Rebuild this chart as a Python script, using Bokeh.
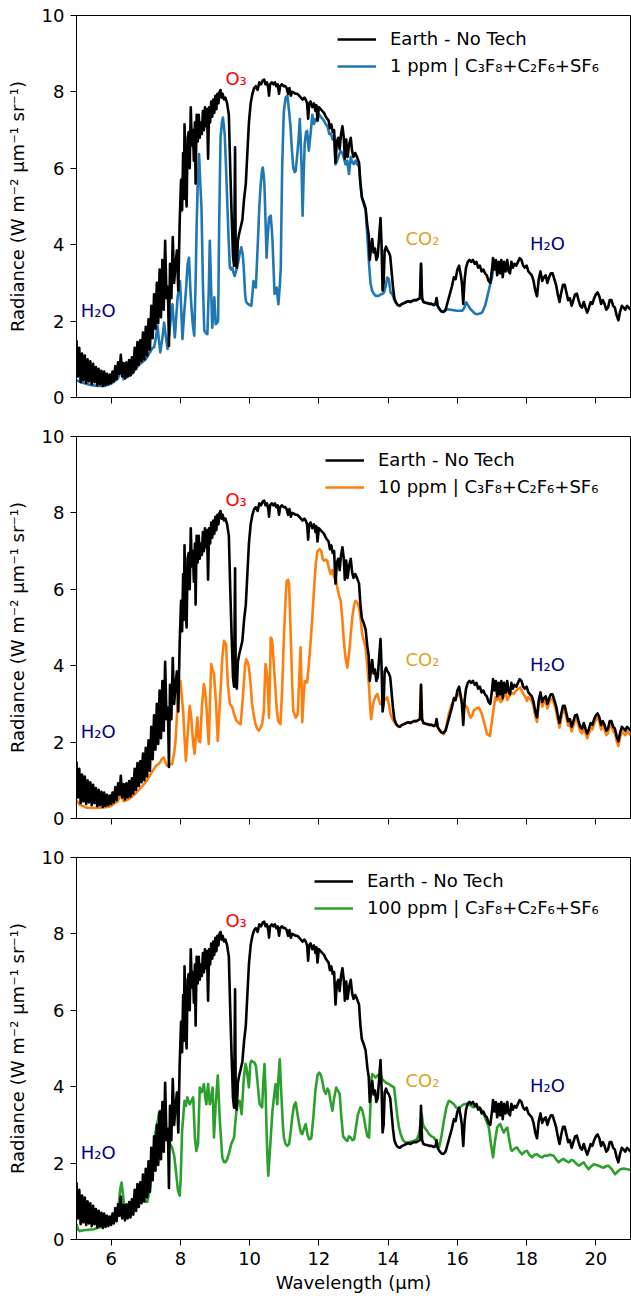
from bokeh.plotting import figure
from bokeh.layouts import column
from bokeh.models import Range1d, FixedTicker, Legend, LegendItem, Label
from bokeh.embed import file_html
from bokeh.resources import INLINE

FONT = "DejaVu Sans"
FS = "18px"

# ---------------- data (wavelength in micron, radiance) ----------------
earth_points = [
    (5.00, 1.50), (5.04, 0.55), (5.08, 1.30), (5.12, 0.40), (5.16, 1.15), (5.20, 0.45), (5.24, 1.10), (5.28, 0.38),
    (5.32, 1.00), (5.36, 0.42), (5.40, 0.95), (5.44, 0.35), (5.48, 0.88), (5.52, 0.40), (5.56, 0.80), (5.60, 0.32),
    (5.64, 0.75), (5.68, 0.35), (5.72, 0.70), (5.76, 0.30), (5.80, 0.68), (5.84, 0.33), (5.88, 0.62), (5.92, 0.35),
    (5.96, 0.60), (6.00, 0.38), (6.04, 0.68), (6.08, 0.42), (6.12, 0.82), (6.16, 0.48), (6.20, 0.92), (6.24, 0.62),
    (6.28, 1.12), (6.32, 0.55), (6.36, 0.90), (6.40, 0.50), (6.44, 0.92), (6.48, 0.55), (6.52, 0.98), (6.56, 0.58),
    (6.60, 1.05), (6.64, 0.65), (6.68, 1.30), (6.72, 0.75), (6.76, 1.45), (6.80, 0.85), (6.84, 1.50), (6.88, 0.95),
    (6.92, 1.70), (6.96, 1.00), (7.00, 1.85), (7.04, 1.10), (7.08, 2.05), (7.12, 1.25), (7.16, 2.40), (7.20, 1.55),
    (7.24, 2.70), (7.28, 1.80), (7.32, 3.00), (7.36, 1.95), (7.40, 3.35), (7.44, 2.10), (7.48, 3.60), (7.52, 2.30),
    (7.56, 4.10), (7.60, 2.60), (7.64, 2.90), (7.67, 1.35), (7.70, 3.50), (7.74, 2.60), (7.78, 4.20), (7.82, 3.00),
    (7.86, 3.50), (7.90, 3.85), (7.94, 2.80), (7.98, 4.60), (8.02, 5.70), (8.05, 4.90), (8.08, 6.40), (8.10, 5.20),
    (8.12, 7.15), (8.15, 5.60), (8.18, 5.00), (8.21, 6.80), (8.24, 6.95), (8.27, 6.00), (8.30, 7.60), (8.33, 6.60),
    (8.36, 7.00), (8.39, 6.20), (8.42, 7.20), (8.44, 5.60), (8.47, 7.40), (8.50, 6.70), (8.53, 7.40), (8.56, 6.80),
    (8.59, 7.20), (8.62, 6.90), (8.65, 7.50), (8.68, 7.00), (8.71, 7.60), (8.74, 7.10), (8.77, 7.55), (8.80, 6.25),
    (8.83, 7.60), (8.86, 7.20), (8.89, 7.75), (8.92, 7.35), (8.95, 7.80), (8.98, 7.45), (9.01, 7.90), (9.04, 7.55),
    (9.07, 7.95), (9.10, 7.70), (9.13, 8.00), (9.16, 8.05), (9.19, 7.85), (9.22, 7.95), (9.26, 7.80), (9.30, 7.85),
    (9.35, 7.70), (9.40, 7.40), (9.44, 6.00), (9.48, 4.80), (9.52, 3.70), (9.55, 3.45), (9.58, 6.55), (9.60, 3.50),
    (9.63, 3.40), (9.66, 4.10), (9.70, 4.30), (9.74, 4.45), (9.79, 4.65), (9.84, 5.20), (9.89, 5.60), (9.94, 6.50),
    (9.98, 7.20), (10.03, 7.70), (10.08, 7.95), (10.13, 8.10), (10.18, 8.15), (10.23, 8.05), (10.28, 8.25),
    (10.33, 8.20), (10.38, 8.30), (10.42, 8.32), (10.46, 8.20), (10.50, 8.25), (10.54, 8.10), (10.56, 7.90),
    (10.59, 8.20), (10.64, 8.25), (10.69, 8.20), (10.73, 8.25), (10.77, 8.15), (10.81, 8.20), (10.85, 7.95),
    (10.88, 8.15), (10.93, 8.20), (10.98, 8.15), (11.03, 8.15), (11.07, 8.10), (11.11, 7.95), (11.15, 8.10),
    (11.19, 7.90), (11.23, 8.00), (11.28, 7.98), (11.33, 7.95), (11.38, 7.95), (11.43, 7.90), (11.48, 7.85),
    (11.53, 7.80), (11.58, 7.85), (11.62, 7.80), (11.66, 7.70), (11.69, 7.30), (11.72, 7.70), (11.76, 7.75),
    (11.81, 7.60), (11.86, 7.70), (11.90, 7.50), (11.93, 7.65), (11.96, 7.25), (12.00, 7.60), (12.05, 7.55),
    (12.10, 7.50), (12.15, 7.45), (12.20, 7.35), (12.24, 7.30), (12.28, 7.25), (12.32, 7.05), (12.36, 7.15),
    (12.40, 6.95), (12.44, 7.00), (12.48, 6.15), (12.52, 6.70), (12.56, 6.80), (12.60, 6.50), (12.64, 6.90),
    (12.68, 7.10), (12.72, 6.80), (12.75, 6.25), (12.79, 6.75), (12.83, 6.30), (12.87, 6.60), (12.92, 6.80),
    (12.96, 6.45), (13.00, 6.30), (13.05, 6.40), (13.10, 6.30), (13.16, 6.15), (13.20, 5.60), (13.24, 5.25),
    (13.30, 5.10), (13.35, 4.95), (13.40, 4.50), (13.44, 4.25), (13.47, 3.60), (13.50, 3.85), (13.54, 4.15),
    (13.58, 3.80), (13.62, 3.90), (13.66, 3.60), (13.70, 3.70), (13.74, 4.20), (13.78, 4.70), (13.81, 4.00),
    (13.84, 2.80), (13.87, 3.00), (13.90, 3.85), (13.94, 3.95), (13.98, 3.85), (14.02, 3.80), (14.06, 3.70),
    (14.10, 3.30), (14.14, 2.90), (14.18, 2.60), (14.23, 2.48), (14.28, 2.42), (14.34, 2.40), (14.40, 2.45),
    (14.46, 2.47), (14.52, 2.50), (14.58, 2.52), (14.64, 2.50), (14.70, 2.53), (14.76, 2.55), (14.82, 2.55),
    (14.88, 2.58), (14.92, 2.60), (14.95, 3.50), (14.98, 2.60), (15.02, 2.50), (15.08, 2.48), (15.14, 2.47),
    (15.20, 2.45), (15.26, 2.45), (15.32, 2.42), (15.37, 2.45), (15.40, 2.60), (15.43, 2.40), (15.48, 2.32),
    (15.54, 2.25), (15.60, 2.24), (15.66, 2.30), (15.72, 2.50), (15.78, 2.70), (15.84, 2.90), (15.90, 3.15),
    (15.95, 3.10), (16.00, 3.35), (16.05, 3.45), (16.10, 3.20), (16.13, 3.00), (16.17, 2.45), (16.21, 3.10),
    (16.25, 3.40), (16.30, 3.55), (16.35, 3.60), (16.40, 3.55), (16.45, 3.60), (16.50, 3.50), (16.55, 3.55),
    (16.60, 3.40), (16.65, 3.45), (16.70, 3.30), (16.75, 3.35), (16.80, 3.25), (16.85, 3.20), (16.90, 3.05),
    (16.95, 3.00), (17.00, 3.35), (17.03, 3.65), (17.07, 3.35), (17.11, 3.60), (17.15, 3.20), (17.19, 3.55),
    (17.23, 3.25), (17.27, 3.60), (17.31, 3.15), (17.35, 3.55), (17.39, 3.30), (17.44, 3.60), (17.48, 3.30),
    (17.52, 3.25), (17.56, 3.55), (17.60, 3.40), (17.65, 3.50), (17.70, 3.45), (17.75, 3.55), (17.80, 3.65),
    (17.85, 3.60), (17.90, 3.45), (17.95, 3.40), (18.00, 3.45), (18.05, 3.30), (18.10, 3.25), (18.15, 3.20),
    (18.20, 3.05), (18.25, 2.80), (18.30, 2.65), (18.35, 3.10), (18.40, 3.30), (18.45, 3.05), (18.50, 3.15),
    (18.55, 3.20), (18.60, 3.00), (18.65, 3.15), (18.70, 3.25), (18.75, 3.25), (18.80, 3.10), (18.85, 2.95),
    (18.90, 2.70), (18.95, 2.50), (19.00, 2.75), (19.05, 2.95), (19.10, 2.95), (19.15, 2.75), (19.20, 2.55),
    (19.25, 2.60), (19.30, 2.40), (19.35, 2.55), (19.40, 2.70), (19.45, 2.72), (19.50, 2.55), (19.55, 2.40),
    (19.60, 2.35), (19.65, 2.50), (19.70, 2.35), (19.75, 2.22), (19.80, 2.35), (19.85, 2.50), (19.90, 2.45),
    (19.95, 2.60), (20.00, 2.70), (20.05, 2.75), (20.10, 2.65), (20.15, 2.45), (20.20, 2.55), (20.25, 2.45),
    (20.30, 2.30), (20.35, 2.35), (20.40, 2.55), (20.45, 2.55), (20.50, 2.40), (20.55, 2.35), (20.60, 2.15),
    (20.65, 2.02), (20.70, 2.25), (20.75, 2.40), (20.80, 2.35), (20.85, 2.30), (20.90, 2.40), (20.95, 2.35),
    (21.00, 2.30),
]

tech_1ppm_points = [
    (5.00, 0.45), (5.20, 0.38), (5.40, 0.33), (5.60, 0.30), (5.80, 0.30), (6.00, 0.36), (6.20, 0.50), (6.28, 0.75),
    (6.36, 0.48), (6.60, 0.62), (6.80, 0.85), (7.00, 1.00), (7.10, 1.15), (7.20, 1.30), (7.24, 1.31), (7.29, 1.55),
    (7.34, 1.88), (7.38, 1.50), (7.42, 1.18), (7.48, 1.55), (7.53, 1.96), (7.58, 1.60), (7.63, 1.27), (7.70, 1.85),
    (7.77, 2.44), (7.84, 1.57), (7.92, 2.62), (7.99, 3.05), (8.03, 2.20), (8.06, 1.53), (8.11, 2.20), (8.16, 2.79),
    (8.21, 3.50), (8.25, 3.66), (8.29, 2.80), (8.32, 2.36), (8.36, 1.90), (8.40, 1.62), (8.44, 3.00), (8.47, 4.50),
    (8.50, 5.58), (8.54, 6.37), (8.58, 5.50), (8.61, 4.97), (8.65, 3.00), (8.69, 1.75), (8.74, 1.68), (8.78, 1.66),
    (8.82, 2.80), (8.85, 4.10), (8.89, 2.80), (8.92, 1.83), (8.95, 2.20), (8.98, 2.62), (9.02, 1.92), (9.06, 1.95),
    (9.09, 2.01), (9.12, 4.50), (9.16, 6.81), (9.20, 7.20), (9.23, 7.33), (9.28, 6.89), (9.32, 6.00), (9.36, 4.97),
    (9.40, 4.00), (9.43, 3.40), (9.47, 3.35), (9.50, 3.40), (9.54, 3.25), (9.57, 3.18), (9.62, 3.35), (9.66, 3.49),
    (9.71, 3.75), (9.76, 3.93), (9.80, 3.75), (9.83, 3.40), (9.87, 2.70), (9.90, 2.50), (9.95, 2.45), (10.00, 2.42),
    (10.05, 2.40), (10.09, 2.80), (10.11, 3.05), (10.15, 2.90), (10.18, 2.88), (10.21, 3.50), (10.24, 4.10),
    (10.28, 5.00), (10.32, 5.58), (10.36, 5.95), (10.38, 6.02), (10.41, 5.80), (10.43, 5.50), (10.46, 4.60),
    (10.49, 3.66), (10.52, 4.20), (10.56, 4.71), (10.61, 4.76), (10.64, 4.40), (10.66, 4.10), (10.69, 3.40),
    (10.72, 2.71), (10.78, 2.88), (10.83, 2.44), (10.87, 2.90), (10.90, 3.40), (10.92, 4.80), (10.94, 6.02),
    (10.97, 7.00), (10.99, 7.51), (11.04, 7.85), (11.09, 7.90), (11.14, 7.50), (11.18, 7.10), (11.22, 6.50),
    (11.26, 6.02), (11.30, 5.90), (11.33, 5.93), (11.37, 6.30), (11.41, 6.72), (11.45, 7.29), (11.48, 6.60),
    (11.50, 6.02), (11.53, 4.76), (11.56, 5.80), (11.59, 6.63), (11.63, 6.95), (11.66, 6.98), (11.71, 6.46),
    (11.76, 6.90), (11.81, 7.40), (11.86, 7.16), (11.90, 7.29), (11.96, 7.24), (12.00, 7.42), (12.05, 7.35),
    (12.10, 7.30), (12.15, 7.24), (12.20, 7.15), (12.25, 7.10), (12.30, 6.90), (12.35, 6.90), (12.40, 6.75),
    (12.44, 6.85), (12.48, 6.10), (12.53, 6.20), (12.58, 6.35), (12.63, 6.45), (12.68, 6.40), (12.72, 6.28),
    (12.77, 6.10), (12.82, 6.20), (12.87, 5.85), (12.92, 6.30), (12.97, 6.15), (13.01, 6.11), (13.06, 6.20),
    (13.11, 6.10), (13.16, 6.05), (13.20, 5.60), (13.25, 5.20), (13.30, 5.05), (13.35, 4.90), (13.40, 4.20),
    (13.45, 3.49), (13.49, 3.00), (13.54, 2.79), (13.59, 2.71), (13.64, 2.66), (13.73, 2.66), (13.78, 2.70),
    (13.83, 2.71), (13.88, 2.75), (13.93, 2.90), (13.97, 3.14), (14.02, 3.10), (14.07, 2.75), (14.12, 2.71),
    (14.18, 2.55), (14.23, 2.48), (14.28, 2.42), (14.34, 2.40), (14.40, 2.45), (14.46, 2.47), (14.52, 2.50),
    (14.58, 2.52), (14.64, 2.50), (14.70, 2.53), (14.76, 2.55), (14.82, 2.55), (14.88, 2.58), (14.92, 2.60),
    (14.95, 3.50), (14.98, 2.60), (15.02, 2.50), (15.08, 2.48), (15.14, 2.47), (15.20, 2.45), (15.26, 2.45),
    (15.32, 2.42), (15.37, 2.45), (15.40, 2.60), (15.43, 2.40), (15.48, 2.32), (15.54, 2.25), (15.60, 2.24),
    (15.71, 2.31), (15.85, 2.29), (15.99, 2.27), (16.14, 2.27), (16.20, 2.35), (16.26, 2.49), (16.32, 2.40),
    (16.38, 2.31), (16.50, 2.20), (16.57, 2.18), (16.65, 2.20), (16.72, 2.23), (16.80, 2.40), (16.86, 2.62),
    (16.93, 2.90), (17.00, 3.14), (17.04, 3.40),
]

tech_10ppm_points = [
    (5.00, 0.48), (5.10, 0.35), (5.20, 0.32), (5.30, 0.28), (5.50, 0.28), (5.70, 0.28), (5.90, 0.30), (6.00, 0.33),
    (6.10, 0.40), (6.20, 0.45), (6.28, 0.65), (6.36, 0.45), (6.50, 0.50), (6.70, 0.65), (6.90, 0.85), (7.00, 0.95),
    (7.10, 1.10), (7.20, 1.25), (7.30, 1.38), (7.40, 1.45), (7.46, 1.55), (7.52, 1.60), (7.58, 1.45), (7.62, 1.38),
    (7.70, 1.42), (7.76, 1.42), (7.82, 1.70), (7.86, 2.03), (7.92, 3.00), (7.97, 3.50), (8.00, 3.60), (8.04, 3.20),
    (8.08, 2.82), (8.12, 2.10), (8.16, 1.51), (8.21, 2.20), (8.27, 2.95), (8.31, 2.70), (8.34, 2.30), (8.38, 1.90),
    (8.41, 1.69), (8.45, 2.20), (8.49, 2.64), (8.53, 2.03), (8.57, 2.00), (8.62, 2.90), (8.68, 3.52), (8.72, 3.30),
    (8.76, 2.82), (8.80, 2.20), (8.82, 1.95), (8.86, 3.20), (8.89, 4.04), (8.93, 3.90), (8.97, 3.78), (9.00, 3.40),
    (9.03, 3.00), (9.08, 2.03), (9.12, 2.70), (9.16, 3.34), (9.21, 4.20), (9.26, 4.65), (9.32, 4.56), (9.37, 3.52),
    (9.43, 3.00), (9.50, 2.91), (9.55, 2.73), (9.62, 2.56), (9.68, 2.50), (9.74, 2.47), (9.79, 3.00), (9.83, 3.52),
    (9.87, 4.00), (9.90, 4.17), (9.94, 4.10), (9.98, 3.95), (10.03, 3.50), (10.07, 3.00), (10.12, 2.70),
    (10.17, 2.47), (10.22, 2.35), (10.27, 2.30), (10.32, 2.38), (10.36, 2.47), (10.41, 2.82), (10.44, 3.60),
    (10.46, 4.04), (10.49, 3.85), (10.51, 3.69), (10.54, 3.10), (10.56, 2.64), (10.59, 3.80), (10.61, 4.74),
    (10.64, 4.70), (10.66, 4.56), (10.70, 4.00), (10.75, 3.34), (10.78, 2.90), (10.82, 2.56), (10.89, 2.47),
    (10.94, 3.40), (10.99, 4.74), (11.03, 5.60), (11.07, 6.22), (11.11, 6.25), (11.14, 6.13), (11.17, 5.30),
    (11.20, 4.39), (11.23, 3.50), (11.26, 2.82), (11.33, 2.64), (11.39, 2.73), (11.43, 3.60), (11.47, 4.48),
    (11.50, 3.50), (11.52, 2.52), (11.56, 3.20), (11.59, 3.60), (11.63, 3.58), (11.66, 3.56), (11.71, 4.04),
    (11.76, 4.60), (11.81, 5.26), (11.86, 6.00), (11.91, 6.66), (11.96, 7.00), (12.02, 7.05), (12.07, 7.00),
    (12.11, 6.80), (12.15, 6.75), (12.20, 6.78), (12.24, 6.75), (12.29, 6.55), (12.34, 6.40), (12.39, 6.50),
    (12.44, 6.31), (12.49, 6.30), (12.53, 6.05), (12.58, 5.85), (12.63, 5.70), (12.68, 5.20), (12.72, 4.65),
    (12.77, 4.20), (12.82, 3.95), (12.87, 4.30), (12.92, 4.83), (12.97, 5.30), (13.02, 5.60), (13.06, 5.70),
    (13.11, 5.65), (13.16, 5.52), (13.21, 5.20), (13.25, 4.83), (13.30, 4.65), (13.35, 4.48), (13.40, 4.00),
    (13.45, 3.43), (13.48, 2.90), (13.51, 2.60), (13.55, 2.90), (13.59, 3.08), (13.64, 3.20), (13.69, 3.26),
    (13.74, 3.10), (13.78, 2.99), (13.83, 3.05), (13.88, 3.08), (13.93, 3.12), (13.97, 3.17), (14.02, 3.00),
    (14.07, 2.73), (14.14, 2.58), (14.22, 2.47), (14.28, 2.42), (14.34, 2.40), (14.40, 2.45), (14.46, 2.47),
    (14.52, 2.50), (14.58, 2.52), (14.64, 2.50), (14.70, 2.53), (14.76, 2.55), (14.82, 2.55), (14.88, 2.58),
    (14.92, 2.60), (14.95, 3.50), (14.98, 2.60), (15.02, 2.50), (15.08, 2.48), (15.14, 2.47), (15.20, 2.45),
    (15.26, 2.45), (15.32, 2.42), (15.37, 2.45), (15.40, 2.60), (15.43, 2.40), (15.48, 2.32), (15.54, 2.25),
    (15.61, 2.21), (15.68, 2.40), (15.75, 2.73), (15.82, 2.95), (15.90, 3.12), (15.97, 3.20), (16.04, 3.26),
    (16.10, 3.15), (16.19, 2.99), (16.28, 2.91), (16.33, 2.75), (16.38, 2.64), (16.43, 2.70), (16.47, 2.82),
    (16.55, 2.88), (16.62, 2.91), (16.70, 2.75), (16.76, 2.56), (16.82, 2.35), (16.86, 2.21), (16.94, 2.16),
    (17.00, 2.56), (17.05, 2.90), (17.10, 3.17), (17.15, 3.10), (17.20, 3.26), (17.25, 3.05), (17.29, 3.08),
    (17.34, 3.20), (17.39, 3.34), (17.44, 3.10), (17.50, 3.20), (17.56, 3.30), (17.63, 3.26), (17.70, 3.35),
    (17.76, 3.40), (17.82, 3.43), (17.88, 3.30), (17.95, 3.20), (18.01, 3.08), (18.05, 3.18), (18.10, 3.13),
    (18.15, 3.08), (18.20, 2.93), (18.25, 2.68), (18.30, 2.53), (18.35, 2.98), (18.40, 3.18), (18.45, 2.93),
    (18.50, 3.03), (18.55, 3.08), (18.60, 2.88), (18.65, 3.03), (18.70, 3.13), (18.75, 3.13), (18.80, 2.98),
    (18.85, 2.83), (18.90, 2.58), (18.95, 2.38), (19.00, 2.63), (19.05, 2.83), (19.10, 2.83), (19.15, 2.63),
    (19.20, 2.43), (19.25, 2.48), (19.30, 2.28), (19.35, 2.43), (19.40, 2.58), (19.45, 2.60), (19.50, 2.43),
    (19.55, 2.28), (19.60, 2.23), (19.65, 2.38), (19.70, 2.23), (19.75, 2.10), (19.80, 2.23), (19.85, 2.38),
    (19.90, 2.33), (19.95, 2.48), (20.00, 2.58), (20.05, 2.63), (20.10, 2.53), (20.15, 2.33), (20.20, 2.43),
    (20.25, 2.33), (20.30, 2.18), (20.35, 2.23), (20.40, 2.43), (20.45, 2.43), (20.50, 2.28), (20.55, 2.23),
    (20.60, 2.03), (20.65, 1.90), (20.70, 2.13), (20.75, 2.28), (20.80, 2.23), (20.85, 2.18), (20.90, 2.28),
    (20.95, 2.23), (21.00, 2.18),
]

tech_100ppm_points = [
    (5.00, 0.40), (5.05, 0.25), (5.10, 0.22), (5.20, 0.24), (5.30, 0.25), (5.40, 0.26), (5.50, 0.27), (5.60, 0.30),
    (5.70, 0.33), (5.80, 0.36), (5.90, 0.40), (6.00, 0.48), (6.10, 0.60), (6.18, 0.75), (6.22, 0.90), (6.26, 1.30),
    (6.30, 1.49), (6.34, 1.20), (6.37, 0.93), (6.42, 0.84), (6.50, 0.82), (6.60, 0.88), (6.75, 1.00), (6.90, 1.00),
    (7.04, 0.98), (7.12, 1.30), (7.18, 1.80), (7.23, 2.15), (7.28, 2.80), (7.33, 3.02), (7.38, 3.30), (7.43, 3.37),
    (7.50, 3.10), (7.57, 2.80), (7.62, 2.66), (7.70, 2.50), (7.76, 2.41), (7.82, 2.20), (7.86, 1.89), (7.93, 1.28),
    (7.98, 1.15), (8.01, 1.60), (8.05, 2.85), (8.12, 3.63), (8.16, 3.50), (8.20, 3.72), (8.27, 3.54), (8.32, 3.63),
    (8.37, 3.72), (8.42, 2.67), (8.46, 2.32), (8.51, 2.50), (8.56, 3.98), (8.60, 3.85), (8.63, 3.89), (8.68, 4.07),
    (8.72, 3.70), (8.75, 3.54), (8.80, 4.07), (8.85, 3.54), (8.89, 3.72), (8.93, 3.98), (8.97, 2.67), (9.02, 3.54),
    (9.08, 4.29), (9.14, 3.11), (9.21, 2.15), (9.26, 2.03), (9.30, 2.02), (9.35, 2.10), (9.40, 2.24), (9.47, 2.50),
    (9.55, 2.67), (9.60, 3.20), (9.64, 3.54), (9.71, 3.63), (9.77, 3.28), (9.83, 4.20), (9.88, 4.60), (9.91, 4.50),
    (9.95, 4.20), (9.98, 3.98), (10.02, 4.60), (10.05, 4.68), (10.10, 4.65), (10.14, 4.63), (10.18, 4.55),
    (10.22, 4.20), (10.26, 3.80), (10.29, 3.54), (10.36, 3.46), (10.40, 4.20), (10.43, 4.59), (10.46, 3.90),
    (10.49, 2.85), (10.52, 2.00), (10.54, 1.67), (10.57, 2.10), (10.61, 2.67), (10.66, 3.37), (10.70, 3.70),
    (10.75, 4.07), (10.80, 3.54), (10.83, 4.20), (10.87, 4.72), (10.90, 4.10), (10.93, 3.54), (10.96, 3.00),
    (10.99, 2.67), (11.04, 2.50), (11.09, 2.45), (11.14, 2.50), (11.19, 2.85), (11.23, 3.20), (11.28, 3.50),
    (11.33, 3.59), (11.38, 3.30), (11.43, 3.02), (11.48, 2.80), (11.52, 2.76), (11.57, 2.90), (11.62, 3.02),
    (11.67, 2.75), (11.72, 2.62), (11.78, 2.65), (11.84, 3.20), (11.90, 3.90), (11.96, 4.30), (12.01, 4.37),
    (12.06, 4.30), (12.10, 4.15), (12.15, 3.90), (12.20, 3.81), (12.25, 3.95), (12.29, 3.89), (12.34, 3.60),
    (12.39, 3.37), (12.44, 3.70), (12.50, 3.98), (12.55, 3.90), (12.60, 3.81), (12.65, 3.20), (12.70, 2.70),
    (12.77, 2.62), (12.82, 2.58), (12.87, 2.70), (12.92, 2.67), (12.97, 2.60), (13.02, 2.62), (13.08, 3.00),
    (13.13, 3.28), (13.20, 3.46), (13.25, 3.40), (13.30, 3.20), (13.35, 2.93), (13.40, 2.70), (13.45, 2.67),
    (13.49, 3.50), (13.52, 4.20), (13.54, 4.33), (13.60, 4.28), (13.64, 4.24), (13.70, 4.30), (13.78, 4.33),
    (13.83, 4.20), (13.88, 4.15), (13.95, 4.10), (14.02, 4.07), (14.10, 4.02), (14.17, 3.98), (14.22, 3.60),
    (14.26, 3.28), (14.31, 2.95), (14.36, 2.76), (14.43, 2.60), (14.50, 2.54), (14.60, 2.55), (14.74, 2.58),
    (14.83, 2.62), (14.89, 2.76), (14.93, 3.00), (14.97, 3.28), (15.01, 3.00), (15.05, 2.93), (15.12, 2.85),
    (15.18, 2.76), (15.25, 2.70), (15.32, 2.67), (15.40, 2.55), (15.47, 2.41), (15.54, 2.70), (15.61, 3.11),
    (15.68, 3.45), (15.75, 3.63), (15.82, 3.60), (15.90, 3.54), (15.97, 3.45), (16.04, 3.41), (16.12, 3.50),
    (16.19, 3.54), (16.26, 3.55), (16.33, 3.54), (16.40, 3.50), (16.47, 3.46), (16.55, 3.48), (16.62, 3.46),
    (16.69, 3.40), (16.76, 3.28), (16.84, 3.10), (16.91, 2.93), (16.97, 2.50), (17.03, 2.15), (17.09, 2.60),
    (17.15, 2.93), (17.20, 3.00), (17.24, 3.02), (17.29, 2.90), (17.34, 2.80), (17.39, 2.88), (17.44, 2.93),
    (17.50, 2.60), (17.55, 2.35), (17.58, 2.32), (17.65, 2.38), (17.72, 2.41), (17.80, 2.30), (17.87, 2.23),
    (17.94, 2.30), (18.01, 2.32), (18.08, 2.22), (18.16, 2.15), (18.23, 2.22), (18.30, 2.23), (18.38, 2.17),
    (18.45, 2.15), (18.52, 2.20), (18.59, 2.19), (18.68, 2.22), (18.78, 2.19), (18.85, 2.10), (18.93, 2.02),
    (19.00, 2.08), (19.07, 2.11), (19.15, 2.05), (19.22, 2.02), (19.29, 2.08), (19.36, 2.06), (19.44, 1.98),
    (19.51, 1.93), (19.58, 1.98), (19.65, 2.02), (19.72, 1.92), (19.79, 1.84), (19.87, 1.92), (19.94, 1.97),
    (20.01, 1.95), (20.08, 1.93), (20.15, 1.90), (20.23, 1.88), (20.30, 1.92), (20.37, 1.93), (20.45, 1.85),
    (20.50, 1.78), (20.56, 1.71), (20.63, 1.78), (20.71, 1.84), (20.80, 1.86), (20.90, 1.84), (21.00, 1.82),
]

earth_label = "Earth - No Tech"
tech_labels = ["1 ppm | C₃F₈+C₂F₆+SF₆", "10 ppm | C₃F₈+C₂F₆+SF₆", "100 ppm | C₃F₈+C₂F₆+SF₆"]
tech_colors = ["#1f77b4", "#ff7f0e", "#2ca02c"]
tech_series = [tech_1ppm_points, tech_10ppm_points, tech_100ppm_points]

x_ticks = [6, 8, 10, 12, 14, 16, 18, 20]
y_ticks = [0, 2, 4, 6, 8, 10]

species_text = ["H₂O", "O₃", "CO₂", "H₂O"]
species_x = [5.12, 9.3, 14.5, 18.1]
species_y = [2.28, 8.35, 4.17, 4.04]
species_color = ["navy", "red", "goldenrod", "navy"]

legend_left = [261, 249, 238]

# ---------------------------------------------------------------------


def split(points):
    return [p[0] for p in points], [p[1] for p in points]


def make_panel(i):
    first = i == 0
    last = i == 2
    top = 15 if first else 13
    bottom = 57 if last else 26
    p = figure(width=631, height=top + 382 + bottom,
               x_range=Range1d(5, 21), y_range=Range1d(0, 10),
               output_backend="svg", toolbar_location=None,
               min_border_left=76, min_border_right=1, min_border_top=top,
               min_border_bottom=bottom)
    p.grid.visible = False
    p.outline_line_color = "black"
    p.outline_line_width = 1
    p.background_fill_color = "white"

    for ax in (p.xaxis[0], p.yaxis[0]):
        ax.major_tick_out = 6
        ax.major_tick_in = 0
        ax.minor_tick_out = 0
        ax.minor_tick_in = 0
        ax.major_label_standoff = 6
        ax.major_label_text_font = FONT
        ax.major_label_text_font_size = FS
        ax.major_label_text_color = "black"
        ax.axis_line_color = "black"
        ax.major_tick_line_color = "black"
        ax.axis_label_text_font = FONT
        ax.axis_label_text_font_size = FS
        ax.axis_label_text_font_style = "normal"
        ax.axis_label_text_color = "black"
    p.xaxis.ticker = FixedTicker(ticks=x_ticks)
    p.yaxis.ticker = FixedTicker(ticks=y_ticks)
    p.yaxis.axis_label = "Radiance (W m⁻² μm⁻¹ sr⁻¹)"
    p.yaxis.axis_label_standoff = 11
    if last:
        p.xaxis.axis_label = "Wavelength (μm)"
        p.xaxis.axis_label_standoff = 4
    else:
        p.xaxis.major_label_overrides = {t: "" for t in x_ticks}
        p.xaxis.major_label_text_font_size = "1px"

    twl, trad = split(tech_series[i])
    ewl, erad = split(earth_points)
    r_tech = p.line(twl, trad, line_color=tech_colors[i], line_width=2.6, line_join="round")
    r_earth = p.line(ewl, erad, line_color="black", line_width=2.6, line_join="round")

    for t, x, y, c in zip(species_text, species_x, species_y, species_color):
        p.add_layout(Label(x=x, y=y, text=t, text_color=c, text_font=FONT,
                           text_font_size=FS, text_align="left", text_baseline="alphabetic"))

    legend = Legend(items=[LegendItem(label=earth_label, renderers=[r_earth]),
                           LegendItem(label=tech_labels[i], renderers=[r_tech])],
                    location=(legend_left[i], 318.5),
                    border_line_color=None, background_fill_alpha=0,
                    padding=0, margin=0, spacing=1,
                    glyph_width=39, glyph_height=26, label_height=26, label_standoff=14,
                    label_text_font=FONT, label_text_font_size=FS, label_text_color="black")
    p.add_layout(legend)
    return p


layout = column(make_panel(0), make_panel(1), make_panel(2))
open("out.html", "w").write(file_html(layout, INLINE))
